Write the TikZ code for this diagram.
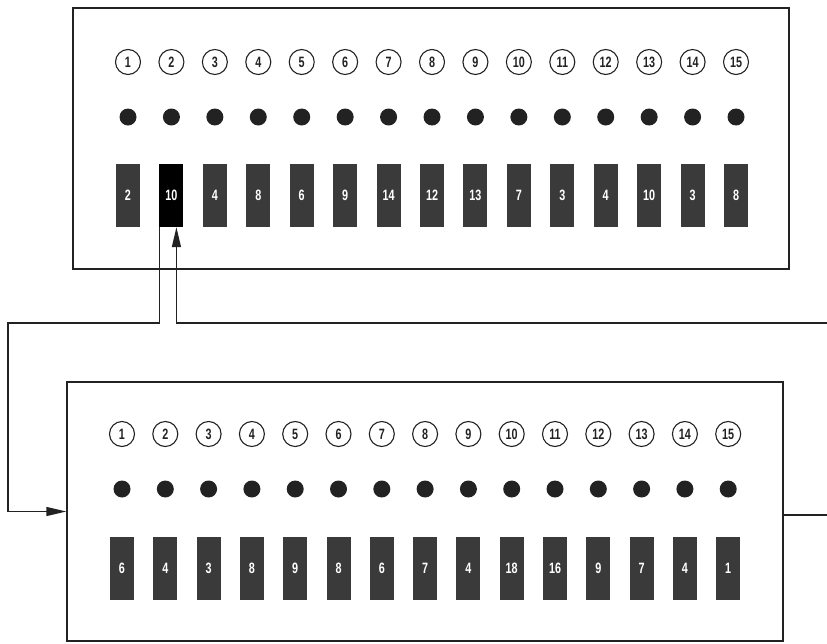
\documentclass[tikz,border=0pt]{standalone}
\usepackage{fontspec}
\setmainfont[FakeStretch=0.72]{Liberation Sans}
\usetikzlibrary{arrows.meta}
\definecolor{ink}{HTML}{222222}
\definecolor{slot}{HTML}{3A3A3A}
\tikzset{
  panel/.style={draw=ink, line width=1.4pt, inner sep=0pt},
  numcirc/.style={circle, draw=ink, line width=1.1pt, minimum size=25pt, inner sep=0pt, font=\bfseries\fontsize{15}{15}\selectfont, text=ink},
  jack/.style={circle, fill=ink, minimum size=17pt, inner sep=0pt},
  slotbox/.style={rectangle, fill=slot, minimum width=24pt, minimum height=63pt, inner sep=0pt, text=white, font=\bfseries\fontsize{15}{15}\selectfont},
  hislot/.style={slotbox, fill=black},
  wire/.style={draw=ink, line width=1.4pt},
  arr/.style={-{Triangle[length=20pt,width=9pt]}}
}
\begin{document}
\begin{tikzpicture}[x=1pt,y=-1pt]
\useasboundingbox (0,0) rectangle (827,643);
% panels
\node[panel, minimum width=716pt, minimum height=261pt] (top) at (431,138.5) {};
\node[panel, minimum width=716pt, minimum height=259pt] (bot) at (425,511.5) {};
% top row
\foreach \t [count=\i] in {2,10,4,8,6,9,14,12,13,7,3,4,10,3,8} {
  \pgfmathsetmacro{\xx}{128+43.43*(\i-1)}
  \node[numcirc] (tc\i) at (\xx,62) {\i};
  \node[jack] (tj\i) at (\xx,117) {};
  \ifnum\i=2
    \node[hislot] (tr\i) at (\xx,195.5) {\t};
  \else
    \node[slotbox] (tr\i) at (\xx,195.5) {\t};
  \fi
}
% bottom row
\foreach \t [count=\i] in {6,4,3,8,9,8,6,7,4,18,16,9,7,4,1} {
  \pgfmathsetmacro{\xx}{122+43.3*(\i-1)}
  \node[numcirc] (bc\i) at (\xx,434) {\i};
  \node[jack] (bj\i) at (\xx,489) {};
  \node[slotbox] (br\i) at (\xx,568.5) {\t};
}
% connectors
\coordinate (j1) at (8,323);
\coordinate (e1) at (827,323);
\coordinate (e2) at (827,515);
\draw[wire, arr] ([xshift=0.5pt]tr2.south west) |- (j1) |- (bot.west);
\draw[wire, arr] (e1) -| ([xshift=5pt]tr2.south);
\draw[wire] (bot.east |- e2) -- (e2);
\end{tikzpicture}
\end{document}
